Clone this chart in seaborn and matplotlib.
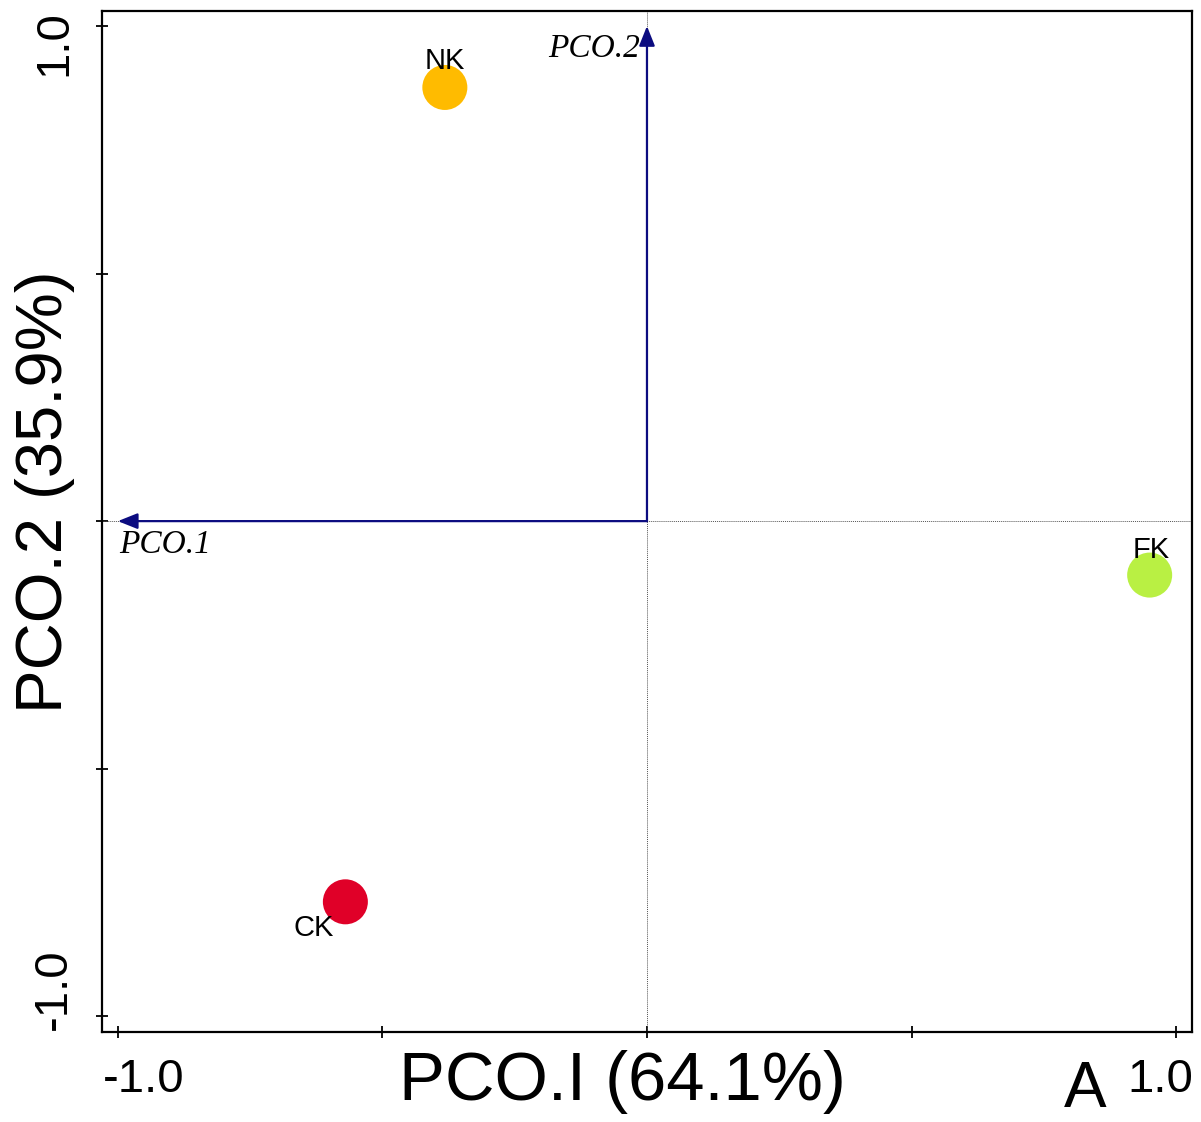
import matplotlib
matplotlib.use("Agg")
import matplotlib.pyplot as plt
import matplotlib.transforms as mtransforms
import pandas as pd
import seaborn as sns

# --- data ---
samples = ["NK", "FK", "CK"]
pco1 = [-0.382, 0.950, -0.570]
pco2 = [0.876, -0.109, -0.769]
colors = ["#FFBB00", "#B9F043", "#E00028"]

x_ticks = [-1.0, -0.5, 0.0, 0.5, 1.0]
x_ticklabels = ["-1.0", "", "", "", "1.0"]
y_ticks = [-1.0, -0.5, 0.0, 0.5, 1.0]
y_ticklabels = ["-1.0", "", "", "", "1.0"]

# loading vectors (arrows from the origin)
vec_names = ["PCO.1", "PCO.2"]
vec_x = [-1.0, 0.0]
vec_y = [0.0, 1.0]

x_label = "PCO.I (64.1%)"
y_label = "PCO.2 (35.9%)"
panel = "A"

# label offsets in points (dx, dy) relative to each point
lab_off = {"NK": (0, 19), "FK": (1, 18), "CK": (-23, -19)}

sns.set_theme(style="white")
plt.rcParams["font.family"] = ["Liberation Sans", "DejaVu Sans"]
plt.rcParams["text.color"] = "black"
plt.rcParams["xtick.color"] = "black"
plt.rcParams["ytick.color"] = "black"

df = pd.DataFrame({"sample": samples, "x": pco1, "y": pco2})

fig = plt.figure(figsize=(12.01, 11.22), dpi=100)
ax = fig.add_axes([0.0849, 0.0802, 0.9076, 0.9098])

ax.axhline(0, color="#555555", ls=(0, (1, 1)), lw=0.7, zorder=1)
ax.axvline(0, color="#555555", ls=(0, (1, 1)), lw=0.7, zorder=1)

sns.scatterplot(data=df, x="x", y="y", hue="sample", palette=colors,
                hue_order=samples, s=1050, linewidth=0, legend=False, ax=ax, zorder=3)

for name, x, y in zip(samples, pco1, pco2):
    dx, dy = lab_off[name]
    ax.annotate(name, (x, y), xytext=(dx, dy), textcoords="offset points",
                ha="center", va="center", fontsize=21, color="black", zorder=4)

for name, vx, vy in zip(vec_names, vec_x, vec_y):
    ax.annotate("", xy=(vx, vy), xytext=(0, 0),
                arrowprops=dict(arrowstyle="-|>,head_length=1.0,head_width=0.4",
                                color="#0c0c80", lw=1.6, shrinkA=0, shrinkB=0), zorder=2)
    if vx != 0:
        ax.annotate(name, (vx, vy), xytext=(1, -17), textcoords="offset points",
                    ha="left", va="center", fontsize=24, style="italic",
                    family="Liberation Serif", color="black")
    else:
        ax.annotate(name, (vx, vy), xytext=(-5, -16), textcoords="offset points",
                    ha="right", va="center", fontsize=24, style="italic",
                    family="Liberation Serif", color="black")

ax.set_xlim(-1.03, 1.03)
ax.set_ylim(-1.032, 1.03)
ax.set_xticks(x_ticks)
ax.set_xticklabels(x_ticklabels, fontsize=34)
ax.set_yticks(y_ticks)
ax.set_yticklabels(y_ticklabels, fontsize=34, rotation=90, va="center")
ax.tick_params(bottom=True, left=True, direction="inout", length=9, width=1.3,
               color="black", labelcolor="black", pad=14)

# shift the end tick labels inward, as in the reference
dpi_t = fig.dpi_scale_trans
xl = ax.get_xticklabels()
xl[0].set_transform(xl[0].get_transform() + mtransforms.ScaledTranslation(26 / 100, 0, dpi_t))
xl[-1].set_transform(xl[-1].get_transform() + mtransforms.ScaledTranslation(-16 / 100, 0, dpi_t))
yl = ax.get_yticklabels()
yl[0].set_transform(yl[0].get_transform() + mtransforms.ScaledTranslation(0, 27 / 100, dpi_t))
yl[-1].set_transform(yl[-1].get_transform() + mtransforms.ScaledTranslation(0, -17 / 100, dpi_t))

ax.set_xlabel("")
ax.set_ylabel("")
fig.text(622 / 1201, 1 - 1082 / 1122, x_label, ha="center", va="center", fontsize=49.5,
         color="black")
fig.text(45 / 1201, 1 - 492 / 1122, y_label, ha="center", va="center", fontsize=47,
         rotation=90, color="black")
fig.text(1085 / 1201, 1 - 1090 / 1122, panel, ha="center", va="center", fontsize=46,
         color="black")

for sp in ax.spines.values():
    sp.set_visible(True)
    sp.set_color("black")
    sp.set_linewidth(1.6)

fig.savefig("out.png", dpi=100, facecolor="white")
